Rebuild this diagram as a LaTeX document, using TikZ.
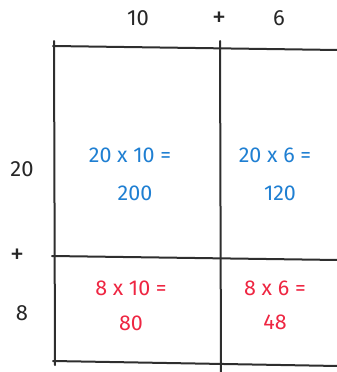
\documentclass[tikz,border=0pt]{standalone}
\usepackage{fontspec}
\setmainfont{Fira Sans}
\definecolor{inkdark}{HTML}{262626}
\definecolor{inkblue}{HTML}{1F7FD2}
\definecolor{inkred}{HTML}{EE2642}
\definecolor{linegray}{HTML}{2E2E2E}
\begin{document}
\begin{tikzpicture}[x=1pt,y=-1pt,
  gridline/.style={draw=linegray,line width=2pt,line cap=round},
  lab/.style={inner sep=0pt,text=inkdark,font=\fontsize{22}{26}\selectfont},
  plus/.style={inner sep=0pt,text=inkdark,font=\fontsize{28}{30}\selectfont},
  bluetxt/.style={inner sep=0pt,text=inkblue,font=\fontsize{21.5}{26}\selectfont},
  redtxt/.style={inner sep=0pt,text=inkred,font=\fontsize{21.5}{26}\selectfont}]
\useasboundingbox (0,0) rectangle (337,372);
% grid coordinates
\coordinate (tl) at (53,46);
\coordinate (tr) at (338,50);
\coordinate (ml) at (52,256);
\coordinate (mr) at (338,260);
\coordinate (bl) at (53,361);
\coordinate (br) at (338,366);
\coordinate (lt) at (54,41);
\coordinate (lb) at (55,365);
\coordinate (ct) at (220,41);
\coordinate (cb) at (221,373);
\draw[gridline] (tl) -- (tr);
\draw[gridline] (ml) -- (mr);
\draw[gridline] (bl) -- (br);
\draw[gridline] (lt) -- (lb);
\draw[gridline] (ct) -- (cb);
% labels
\node[lab] (t10) at (138,18) {10};
\node[plus] (tplus) at (219,19) {+};
\node[lab] (t6) at (279,18) {6};
\node[lab] (l20) at (22,169) {20};
\node[plus] (lplus) at (17,256) {+};
\node[lab] (l8) at (22,313) {8};
% cells
\node[bluetxt] (a1) at (130,155) {20 x 10 =};
\node[bluetxt] (a2) at (135,193) {200};
\node[bluetxt] (b1) at (275,155) {20 x 6 =};
\node[bluetxt] (b2) at (280,193) {120};
\node[redtxt] (c1) at (131,288) {8 x 10 =};
\node[redtxt] (c2) at (131,323) {80};
\node[redtxt] (d1) at (275,288) {8 x 6 =};
\node[redtxt] (d2) at (275,322) {48};
\end{tikzpicture}
\end{document}
